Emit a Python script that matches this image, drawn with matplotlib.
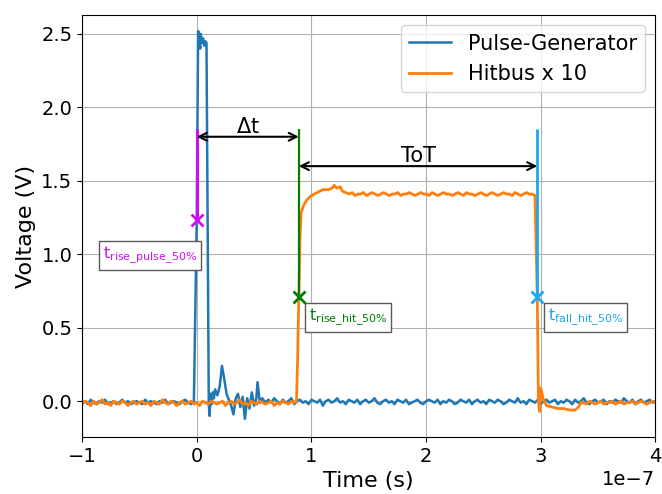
import numpy as np
import matplotlib
matplotlib.use("Agg")
import matplotlib.pyplot as plt

plt.rcParams['font.size'] = 14

# Time values in units of 1e-7 s, voltages in V
# Pulse generator, baseline before the pulse (evenly sampled -1.0 .. -0.025)
pulse_pre_v = [-0.01, 0.00, -0.02, 0.01, -0.01, -0.02, 0.00, -0.01, 0.01, -0.02,
               -0.01, 0.00, -0.02, -0.01, 0.01, -0.01, 0.00, -0.02, -0.01, 0.00,
               -0.01, -0.02, 0.01, -0.01, 0.00, -0.01, -0.02, 0.00, -0.01, 0.01,
               -0.02, -0.01, 0.00, -0.01, -0.02, 0.00, 0.01, -0.01, -0.02, 0.00]
# Pulse generator, the pulse and the ringing after it
pulse_main_t = [0.0, 0.012, 0.02, 0.03, 0.035, 0.045, 0.055, 0.065, 0.075, 0.085, 0.095,
                0.105, 0.112, 0.12, 0.13, 0.14, 0.15, 0.16, 0.18, 0.2, 0.22, 0.24,
                0.26, 0.28, 0.3, 0.32, 0.34, 0.36, 0.38, 0.4, 0.42, 0.44, 0.46, 0.48,
                0.5, 0.52, 0.53, 0.55, 0.57, 0.6]
pulse_main_v = [1.23, 2.52, 2.48, 2.40, 2.50, 2.44, 2.47, 2.42, 2.45, 2.44, 1.20,
                -0.02, -0.10, 0.05, -0.02, 0.06, 0.02, 0.08, 0.04, 0.10, 0.24, 0.15,
                0.05, 0.01, -0.03, -0.09, 0.02, 0.05, -0.04, 0.03, -0.12, 0.02, -0.05,
                0.06, -0.03, 0.02, 0.13, -0.01, 0.02, -0.01]
# Pulse generator, baseline after the ringing (evenly sampled 0.625 .. 4.0)
pulse_post_v = [0.01, -0.01, 0.02, 0.00, -0.02, 0.01, -0.01, 0.00, 0.02, -0.02,
                0.00, 0.01, -0.01, 0.00, -0.02, 0.01, 0.00, -0.01, 0.01, -0.03,
                0.00, 0.01, -0.01, 0.00, 0.02, -0.01, 0.00, -0.02, 0.01, 0.00,
                -0.01, 0.01, -0.02, 0.00, 0.01, -0.01, 0.00, 0.02, -0.01, -0.02,
                0.00, 0.01, -0.01, 0.00, -0.02, 0.01, 0.00, -0.01, 0.01, -0.02,
                -0.01, 0.00, 0.01, -0.01, -0.02, 0.00, 0.01, 0.00, -0.01, 0.01,
                -0.02, 0.00, -0.01, 0.01, 0.00, -0.02, -0.01, 0.01, 0.00, -0.01,
                0.01, -0.02, 0.00, 0.01, -0.01, 0.00, -0.02, 0.01, 0.00, -0.01,
                0.01, 0.00, -0.02, -0.01, 0.01, 0.00, -0.01, 0.02, -0.01, 0.00,
                -0.02, 0.01, 0.00, -0.01, 0.01, -0.02, 0.00, 0.01, -0.01, 0.00,
                0.01, -0.02, 0.00, -0.01, 0.01, 0.00, -0.02, 0.01, -0.01, 0.00,
                0.02, -0.01, -0.02, 0.00, 0.01, -0.01, 0.00, 0.01, -0.02, 0.00,
                -0.01, 0.01, 0.00, -0.01, 0.02, 0.00, -0.01, 0.01, -0.02, 0.00,
                0.01, -0.01, 0.00, 0.01, -0.01, 0.00]

# Hitbus x 10, baseline before the hit (evenly sampled -1.0 .. 0.85)
hit_pre_v = [-0.02, 0.00, -0.01, -0.03, 0.00, -0.02, -0.01, 0.01, -0.02, -0.01,
             -0.03, 0.00, -0.01, -0.02, 0.00, -0.01, -0.03, -0.01, 0.00, -0.02,
             -0.01, 0.00, -0.02, -0.01, -0.03, 0.00, -0.01, -0.02, 0.01, -0.01,
             -0.02, 0.00, -0.01, -0.03, -0.01, 0.00, -0.02, -0.01, 0.00, -0.02,
             -0.01, -0.03, 0.00, -0.01, -0.02, 0.00, -0.01, -0.02, -0.01, 0.00,
             -0.03, -0.01, 0.00, -0.02, -0.01, 0.01, -0.02, -0.01, -0.03, 0.00,
             -0.01, -0.02, 0.00, -0.01, -0.02, -0.01, 0.00, -0.03, -0.01, -0.02,
             0.00, -0.01, -0.02, 0.00, -0.01]
# Hitbus x 10, rising edge and settling
hit_rise_t = [0.87, 0.88, 0.89, 0.90, 0.91, 0.93, 0.96, 1.00, 1.05, 1.10, 1.15,
              1.18, 1.20, 1.22, 1.25, 1.27, 1.30]
hit_rise_v = [0.00, 0.30, 0.71, 1.10, 1.28, 1.33, 1.37, 1.40, 1.42, 1.44, 1.44,
              1.45, 1.47, 1.45, 1.46, 1.43, 1.42]
# Hitbus x 10, plateau (evenly sampled 1.33 .. 2.95)
hit_flat_v = [1.41, 1.42, 1.40, 1.41, 1.41, 1.42, 1.40, 1.41, 1.42, 1.41,
              1.40, 1.41, 1.42, 1.41, 1.40, 1.41, 1.41, 1.42, 1.40, 1.41,
              1.41, 1.42, 1.41, 1.40, 1.41, 1.42, 1.41, 1.41, 1.40, 1.42,
              1.41, 1.40, 1.41, 1.42, 1.41, 1.41, 1.40, 1.41, 1.42, 1.41,
              1.40, 1.42, 1.41, 1.41, 1.40, 1.41, 1.42, 1.41, 1.40, 1.41,
              1.42, 1.41, 1.40, 1.41, 1.42, 1.41, 1.41, 1.40, 1.42, 1.41,
              1.40, 1.41, 1.42, 1.41, 1.41, 1.40]
# Hitbus x 10, falling edge and undershoot
hit_fall_t = [2.97, 2.98, 2.99, 3.00, 3.02, 3.05, 3.10, 3.15, 3.20, 3.25, 3.30,
              3.33, 3.35]
hit_fall_v = [0.71, 0.00, -0.07, 0.09, 0.02, -0.03, -0.04, -0.05, -0.05, -0.06,
              -0.06, -0.04, -0.01]
# Hitbus x 10, baseline after the hit (evenly sampled 3.375 .. 4.0)
hit_post_v = [-0.01, -0.02, 0.00, -0.01, -0.02, -0.01, 0.00, -0.02, -0.01, -0.01,
              0.00, -0.02, -0.01, 0.00, -0.02, -0.01, -0.01, 0.00, -0.02, -0.01,
              0.00, -0.01, -0.02, -0.01, 0.00, -0.01]

# Threshold crossings (time, voltage)
t_rise_pulse = (0.0, 1.23)
t_rise_hit = (0.89, 0.71)
t_fall_hit = (2.97, 0.71)
line_top = 1.85

pulse_t = np.concatenate([np.linspace(-1.0, -0.025, len(pulse_pre_v)), pulse_main_t,
                          np.linspace(0.625, 4.0, len(pulse_post_v))]) * 1e-7
pulse_v = np.concatenate([pulse_pre_v, pulse_main_v, pulse_post_v])
hit_t = np.concatenate([np.linspace(-1.0, 0.85, len(hit_pre_v)), hit_rise_t,
                        np.linspace(1.33, 2.95, len(hit_flat_v)), hit_fall_t,
                        np.linspace(3.375, 4.0, len(hit_post_v))]) * 1e-7
hit_v = np.concatenate([hit_pre_v, hit_rise_v, hit_flat_v, hit_fall_v, hit_post_v])

fig, ax = plt.subplots(figsize=(6.62, 4.94), dpi=100)
fig.subplots_adjust(left=0.124, right=0.99, top=0.970, bottom=0.115)

ax.plot(pulse_t, pulse_v, color='#1f77b4', lw=1.8, label='Pulse-Generator')
ax.plot(hit_t, hit_v, color='#ff7f0e', lw=2.0, label='Hitbus x 10')

col_pulse = '#cc11ee'
col_rise = 'green'
col_fall = '#1aa8f0'

for (tx, vy), c, lw in [(t_rise_pulse, col_pulse, 2.2), (t_rise_hit, col_rise, 1.6),
                        (t_fall_hit, col_fall, 2.0)]:
    ax.vlines(tx * 1e-7, vy, line_top, color=c, lw=lw, zorder=3)
    ax.plot(tx * 1e-7, vy, 'x', color=c, ms=9, mew=2, zorder=4)

# Arrows
ax.annotate('', xy=(t_rise_hit[0] * 1e-7, 1.8), xytext=(t_rise_pulse[0] * 1e-7, 1.8),
            arrowprops=dict(arrowstyle='<->', color='black', lw=1.5, shrinkA=0, shrinkB=0))
ax.text(0.45e-7, 1.80, r'$\Delta$t', ha='center', va='bottom', fontsize=15)
ax.annotate('', xy=(t_fall_hit[0] * 1e-7, 1.6), xytext=(t_rise_hit[0] * 1e-7, 1.6),
            arrowprops=dict(arrowstyle='<->', color='black', lw=1.5, shrinkA=0, shrinkB=0))
ax.text(1.93e-7, 1.60, 'ToT', ha='center', va='bottom', fontsize=15)

box = dict(boxstyle='square,pad=0.25', fc='white', ec='0.35', lw=1)
ax.text(-0.82e-7, 0.99, r't$_{\mathrm{rise\_pulse\_50\%}}$', color=col_pulse,
        ha='left', va='center', fontsize=11.5, bbox=box)
ax.text(0.975e-7, 0.57, r't$_{\mathrm{rise\_hit\_50\%}}$', color=col_rise,
        ha='left', va='center', fontsize=11.5, bbox=box)
ax.text(3.06e-7, 0.57, r't$_{\mathrm{fall\_hit\_50\%}}$', color=col_fall,
        ha='left', va='center', fontsize=11.5, bbox=box)

ax.set_xlim(-1e-7, 4e-7)
ax.set_ylim(-0.245, 2.63)
ax.set_xlabel('Time (s)', fontsize=16)
ax.set_ylabel('Voltage (V)', fontsize=16)
ax.grid(True, color='#b0b0b0', lw=0.8)
ax.legend(loc='upper right', fontsize=15)

fig.savefig('out.png', dpi=100)
